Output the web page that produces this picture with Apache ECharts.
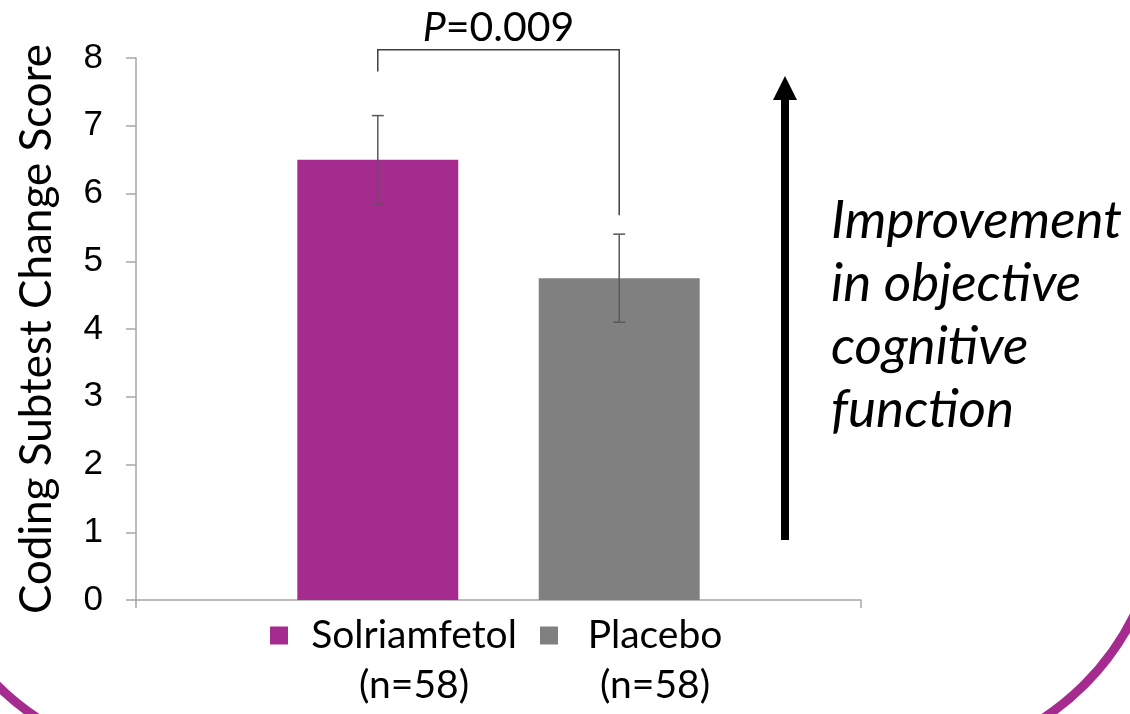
<!DOCTYPE html>
<html>
<head>
<meta charset="utf-8">
<script src="https://cdn.jsdelivr.net/npm/echarts@6/dist/echarts.min.js"></script>
<style>
  html, body { margin: 0; padding: 0; background: #ffffff; }
  #chart { width: 1130px; height: 714px; }
</style>
</head>
<body>
<div id="chart"></div>
<script>
// Coding subtest change score by treatment group
const categories = [''];
const groupNames = ['Solriamfetol', 'Placebo'];
const groupSizes = ['(n=58)', '(n=58)'];
const meanChange = [6.5, 4.75];
const stdError = [0.65, 0.65];
const yTicks = [0, 1, 2, 3, 4, 5, 6, 7, 8];

// significance bracket (value-axis units): left foot, right foot, top
const bracketLeftFoot = 7.8;
const bracketRightFoot = 5.68;
const bracketTop = 8.12;
const pLabelLevel = 8.44;
const pValueText = '=0.009';

const PURPLE = '#A62B8F';
const GREY = '#808080';
const groupColors = [PURPLE, GREY];

const BAR_FRAC = 0.222;   // bar width as share of the category band
const BAR_GAP = 0.5;      // gap between bars as share of bar width

const chart = echarts.init(document.getElementById('chart'), null, { renderer: 'canvas' });

function barCenterOffset(api, idx) {
  const band = api.size([1, 0])[0];
  const w = band * BAR_FRAC;
  return (idx - (groupNames.length - 1) / 2) * (w + w * BAR_GAP);
}

const barSeries = groupNames.map((name, i) => ({
  name: name,
  type: 'bar',
  data: [meanChange[i]],
  barWidth: (BAR_FRAC * 100) + '%',
  barGap: (BAR_GAP * 100) + '%',
  itemStyle: { color: groupColors[i] },
  emphasis: { disabled: true },
  z: 2
}));

const errorSeries = {
  type: 'custom',
  name: 'error',
  data: meanChange.map((m, i) => [0, m, stdError[i], i]),
  z: 5,
  silent: true,
  renderItem: function (params, api) {
    const idx = api.value(3);
    const m = api.value(1), e = api.value(2);
    const top = api.coord([0, m + e]);
    const bot = api.coord([0, m - e]);
    const x = top[0] + barCenterOffset(api, idx);
    const cap = 6;
    const style = { stroke: '#595959', lineWidth: 1.5, fill: null };
    return {
      type: 'group',
      children: [
        { type: 'line', shape: { x1: x, y1: top[1], x2: x, y2: bot[1] }, style: style },
        { type: 'line', shape: { x1: x - cap, y1: top[1], x2: x + cap, y2: top[1] }, style: style },
        { type: 'line', shape: { x1: x - cap, y1: bot[1], x2: x + cap, y2: bot[1] }, style: style }
      ]
    };
  }
};

const bracketSeries = {
  type: 'custom',
  name: 'bracket',
  data: [[0, bracketLeftFoot, bracketRightFoot, bracketTop, pLabelLevel]],
  clip: false,
  silent: true,
  z: 6,
  renderItem: function (params, api) {
    const c = api.coord([0, api.value(3)]);
    const lx = c[0] + barCenterOffset(api, 0);
    const rx = c[0] + barCenterOffset(api, 1);
    const yTop = c[1];
    const yL = api.coord([0, api.value(1)])[1];
    const yR = api.coord([0, api.value(2)])[1];
    const yText = api.coord([0, api.value(4)])[1];
    return {
      type: 'group',
      children: [
        {
          type: 'polyline',
          shape: { points: [[lx, yL], [lx, yTop], [rx, yTop], [rx, yR]] },
          style: { stroke: '#404040', lineWidth: 1.5, fill: null }
        },
        {
          type: 'text',
          x: (lx + rx) / 2,
          y: yText,
          style: {
            text: '{i|P}{n|' + pValueText + '}',
            align: 'center',
            verticalAlign: 'middle',
            rich: {
              i: { fontFamily: 'Lato', fontStyle: 'italic', fontSize: 41, fill: '#000' },
              n: { fontFamily: 'Lato', fontSize: 41, fill: '#000' }
            }
          }
        }
      ]
    };
  }
};

const legendWidths = { Solriamfetol: 242, Placebo: 184 };

const option = {
  animation: false,
  backgroundColor: '#ffffff',
  grid: { left: 136, right: 269, top: 58, bottom: 114, containLabel: false, outerBoundsMode: 'none' },
  legend: {
    data: groupNames,
    left: 270,
    top: 566,
    padding: 0,
    itemWidth: 18,
    itemHeight: 18,
    itemGap: 5,
    icon: 'rect',
    selectedMode: false,
    formatter: function (name) {
      const i = groupNames.indexOf(name);
      const key = name === 'Solriamfetol' ? 'a' : 'b';
      return '{e| }\n{' + key + '|' + name + '}\n{' + key + '|' + groupSizes[i] + '}';
    },
    textStyle: {
      fontFamily: 'Lato',
      fontSize: 39,
      color: '#000',
      rich: {
        e: { lineHeight: 50, fontSize: 39 },
        a: { width: legendWidths.Solriamfetol, align: 'center', lineHeight: 50, fontSize: 39, fontFamily: 'Lato', color: '#000' },
        b: { width: legendWidths.Placebo, align: 'center', lineHeight: 50, fontSize: 39, fontFamily: 'Lato', color: '#000' }
      }
    }
  },
  xAxis: {
    type: 'category',
    data: categories,
    axisLine: { show: true, lineStyle: { color: '#A6A6A6', width: 1.5 } },
    axisTick: { show: true, length: 8, lineStyle: { color: '#A6A6A6', width: 1.5 } },
    axisLabel: { show: false },
    splitLine: { show: false }
  },
  yAxis: {
    type: 'value',
    min: yTicks[0],
    max: yTicks[yTicks.length - 1],
    interval: 1,
    name: 'Coding Subtest Change Score',
    nameLocation: 'middle',
    nameGap: 77,
    nameRotate: 90,
    nameTextStyle: { fontFamily: 'Lato', fontSize: 44, color: '#000' },
    axisLine: { show: true, lineStyle: { color: '#A6A6A6', width: 1.5 } },
    axisTick: { show: true, length: 10, lineStyle: { color: '#A6A6A6', width: 1.5 } },
    axisLabel: { margin: 33, fontFamily: 'Liberation Sans', fontSize: 35, color: '#000' },
    splitLine: { show: false }
  },
  series: [...barSeries, errorSeries, bracketSeries],
  graphic: [
    // slide frame corners
    {
      type: 'rect',
      shape: { x: -80, y: -500, width: 1241, height: 1261, r: 261 },
      style: { fill: null, stroke: PURPLE, lineWidth: 9 },
      silent: true, z: 1
    },
    // upward arrow
    {
      type: 'line',
      shape: { x1: 785, y1: 540, x2: 785, y2: 98 },
      style: { stroke: '#000', lineWidth: 8 },
      silent: true
    },
    {
      type: 'polygon',
      shape: { points: [[773, 100], [797, 100], [785, 76]] },
      style: { fill: '#000' },
      silent: true
    },
    {
      type: 'text',
      left: 831,
      top: 189,
      style: {
        text: 'Improvement\nin objective\ncognitive\nfunction',
        fontFamily: 'Lato',
        fontStyle: 'italic',
        fontSize: 53,
        lineHeight: 63,
        fill: '#000'
      },
      silent: true
    }
  ]
};

chart.setOption(option);
</script>
</body>
</html>
